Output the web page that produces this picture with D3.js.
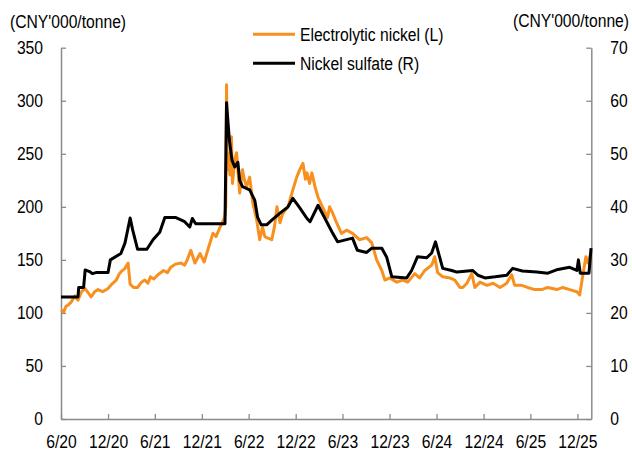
<!DOCTYPE html>
<html><head><meta charset="utf-8">
<script src="https://cdn.jsdelivr.net/npm/d3@7"></script>
<style>
body{margin:0;background:#fff}
svg{display:block}
</style>
</head><body>
<svg id="c" width="632" height="454"></svg>
<script>
const xTickLabels = ["6/20","12/20","6/21","12/21","6/22","12/22","6/23","12/23","6/24","12/24","6/25","12/25"];
const xTickDates  = ["2020-06-01","2020-12-01","2021-06-01","2021-12-01","2022-06-01","2022-12-01","2023-06-01","2023-12-01","2024-06-01","2024-12-01","2025-06-01","2025-12-01"];
const leftTicks  = [0,50,100,150,200,250,300,350];
const rightTicks = [0,10,20,30,40,50,60,70];
const leftTitle = "(CNY'000/tonne)";
const rightTitle = "(CNY'000/tonne)";
const seriesNames = ["Electrolytic nickel (L)","Nickel sulfate (R)"];

// Electrolytic nickel, CNY'000/tonne (left axis)
const nickelDates = ["2020-06-01","2020-06-12","2020-06-20","2020-07-01","2020-07-10","2020-07-25","2020-08-06","2020-08-20","2020-09-03","2020-09-15","2020-09-26","2020-10-10","2020-10-23","2020-11-10","2020-12-01","2020-12-15","2021-01-02","2021-01-12","2021-01-21","2021-02-05","2021-02-17","2021-02-25","2021-03-10","2021-03-26","2021-04-10","2021-04-23","2021-05-05","2021-05-15","2021-05-28","2021-06-13","2021-07-05","2021-07-20","2021-08-02","2021-08-20","2021-09-11","2021-09-25","2021-10-05","2021-10-19","2021-11-04","2021-11-24","2021-12-10","2021-12-25","2022-01-13","2022-01-25","2022-02-10","2022-02-28","2022-03-04","2022-03-07","2022-03-10","2022-03-15","2022-03-20","2022-03-26","2022-03-30","2022-04-08","2022-04-15","2022-04-27","2022-05-08","2022-05-15","2022-05-24","2022-06-05","2022-06-17","2022-07-02","2022-07-14","2022-07-25","2022-08-03","2022-08-10","2022-08-30","2022-09-10","2022-09-19","2022-10-01","2022-10-12","2022-11-01","2022-11-20","2022-12-05","2022-12-17","2022-12-29","2023-01-08","2023-01-14","2023-01-24","2023-02-02","2023-02-14","2023-02-26","2023-03-15","2023-04-04","2023-04-12","2023-04-24","2023-05-09","2023-05-28","2023-06-17","2023-07-10","2023-08-06","2023-09-03","2023-09-23","2023-10-12","2023-11-01","2023-11-13","2023-12-02","2023-12-29","2024-01-21","2024-02-10","2024-03-08","2024-03-27","2024-04-16","2024-05-13","2024-05-25","2024-06-05","2024-06-25","2024-07-22","2024-08-11","2024-08-31","2024-09-11","2024-09-27","2024-10-16","2024-10-28","2024-11-17","2024-12-14","2025-01-07","2025-02-03","2025-03-01","2025-03-20","2025-04-01","2025-04-28","2025-05-21","2025-06-18","2025-07-15","2025-08-08","2025-09-12","2025-10-05","2025-11-01","2025-11-29","2025-12-10","2025-12-21","2026-01-03","2026-01-11","2026-01-23"];
const nickelValues = [103,101,106,108,110,116,112,120,123,119,115,120,122,120,123,127,131,136,139,142,147,127,124,124,129,131,128,134,132,136,140,138,143,146,147,145,150,159,147,156,148,160,175,172,181,190,200,315,235,250,230,266,222,245,251,213,235,226,219,228,204,188,169,181,172,171,169,182,200,185,194,200,216,228,235,241,226,232,222,232,219,209,200,190,200,194,185,175,178,175,169,171,166,150,140,131,133,129,131,129,137,133,140,145,153,138,134,133,131,124,124,128,137,124,129,126,128,124,128,136,126,126,124,122,122,124,122,124,122,120,117,134,153,147,157];

// Nickel sulfate, CNY'000/tonne (right axis)
const sulfateDates = ["2020-06-01","2020-08-06","2020-08-09","2020-08-28","2020-09-03","2020-09-20","2020-10-01","2020-10-15","2020-12-01","2020-12-10","2021-01-20","2021-02-05","2021-02-25","2021-03-07","2021-03-26","2021-05-01","2021-05-25","2021-06-20","2021-07-10","2021-08-20","2021-09-25","2021-10-15","2021-10-25","2021-11-07","2022-03-01","2022-03-07","2022-03-18","2022-03-28","2022-04-08","2022-04-20","2022-04-27","2022-05-08","2022-06-05","2022-06-25","2022-07-06","2022-07-20","2022-08-10","2022-08-30","2022-10-01","2022-11-01","2022-11-20","2022-12-17","2023-01-14","2023-01-26","2023-02-26","2023-03-23","2023-04-24","2023-05-13","2023-07-10","2023-07-29","2023-09-03","2023-09-23","2023-11-01","2023-11-20","2023-12-10","2024-02-06","2024-02-25","2024-03-19","2024-04-24","2024-05-13","2024-05-28","2024-06-13","2024-06-25","2024-07-30","2024-08-19","2024-10-20","2024-11-09","2024-12-06","2025-01-15","2025-03-01","2025-03-24","2025-05-01","2025-06-26","2025-08-08","2025-09-16","2025-11-01","2025-11-29","2025-12-05","2025-12-12","2026-01-15","2026-01-23"];
const sulfateValues = [23.0,23.0,24.8,24.8,28.1,27.8,27.4,27.6,27.6,30.0,31.2,33.2,37.9,35.6,32.0,32.0,33.8,35.2,38.0,38.0,37.2,36.2,37.8,36.8,36.8,59.6,52.6,48.8,47.5,48.4,45.0,43.8,43.2,41.2,38.0,36.6,36.6,37.5,38.8,40.0,41.6,39.8,37.8,37.2,40.3,38.0,35.0,33.4,34.1,31.8,31.4,32.2,32.2,30.5,26.8,26.6,28.0,30.6,30.4,31.3,33.4,30.5,28.4,28.0,27.7,28.0,27.1,26.6,26.8,27.1,28.4,27.9,27.7,27.5,28.2,28.6,28.0,30.0,27.5,27.5,32.2];

const parse = d3.timeParse("%Y-%m-%d");
const FONT = "'Liberation Sans',Arial,sans-serif";
const FS = 18;
const SX = 0.87;
const axisColor = "#8a8a8a";
const orange = "#f7901e";

const x0 = 61, x1 = 591.3, yTop = 47.7, yBot = 419;
const svg = d3.select("#c");

const x = d3.scaleTime().domain([parse("2020-06-01"), parse("2026-01-24")]).range([x0, x1]);
const yL = d3.scaleLinear().domain([0, 350]).range([yBot, yTop]);
const yR = d3.scaleLinear().domain([0, 70]).range([yBot, yTop]);

function condense(sel){
  sel.each(function(){
    const t = d3.select(this);
    const ax = +(t.attr("x") || 0);
    t.attr("transform", `translate(${ax},0) scale(${SX},1) translate(${-ax},0)`);
  });
}

function styleAxis(g){
  g.attr("font-family", FONT).attr("font-size", FS).attr("color", axisColor);
  g.select(".domain").attr("stroke-width", 1.5);
  g.selectAll(".tick line").attr("stroke-width", 1.3);
  g.selectAll(".tick text").attr("fill", "#000").call(condense);
}

svg.append("g").attr("transform", `translate(${x0},0)`)
  .call(d3.axisLeft(yL).tickValues(leftTicks).tickSize(-5).tickSizeOuter(0).tickPadding(18))
  .call(styleAxis);

svg.append("g").attr("transform", `translate(${x1},0)`)
  .call(d3.axisRight(yR).tickValues(rightTicks).tickSize(-5).tickSizeOuter(0).tickPadding(19))
  .call(styleAxis);

svg.append("g").attr("transform", `translate(0,${yBot})`)
  .call(d3.axisBottom(x).tickValues(xTickDates.map(parse)).tickFormat((d,i)=>xTickLabels[i]).tickSize(-5).tickSizeOuter(0).tickPadding(16))
  .call(styleAxis);

const nickel = nickelDates.map((d,i)=>({date: parse(d), v: nickelValues[i]}));
const sulfate = sulfateDates.map((d,i)=>({date: parse(d), v: sulfateValues[i]}));

svg.append("path").datum(nickel)
  .attr("fill","none").attr("stroke",orange).attr("stroke-width",3).attr("stroke-linejoin","round")
  .attr("d", d3.line().x(d=>x(d.date)).y(d=>yL(d.v)));

svg.append("path").datum(sulfate)
  .attr("fill","none").attr("stroke","#000").attr("stroke-width",3).attr("stroke-linejoin","round")
  .attr("d", d3.line().x(d=>x(d.date)).y(d=>yR(d.v)));

// titles
svg.append("text").attr("x", 10).attr("y", 28).attr("font-family", FONT).attr("font-size", FS).text(leftTitle).call(condense);
svg.append("text").attr("x", 629).attr("y", 27).attr("text-anchor","end").attr("font-family", FONT).attr("font-size", FS).text(rightTitle).call(condense);

// legend
const legend = [{name: seriesNames[0], color: orange, y: 34.3},{name: seriesNames[1], color: "#000", y: 63.3}];
const lg = svg.append("g");
legend.forEach(l=>{
  lg.append("line").attr("x1",253).attr("x2",295).attr("y1",l.y).attr("y2",l.y).attr("stroke",l.color).attr("stroke-width",3);
  lg.append("text").attr("x",300).attr("y",l.y).attr("dy","0.35em").attr("font-family",FONT).attr("font-size",FS).text(l.name).call(condense);
});
</script>
</body></html>
